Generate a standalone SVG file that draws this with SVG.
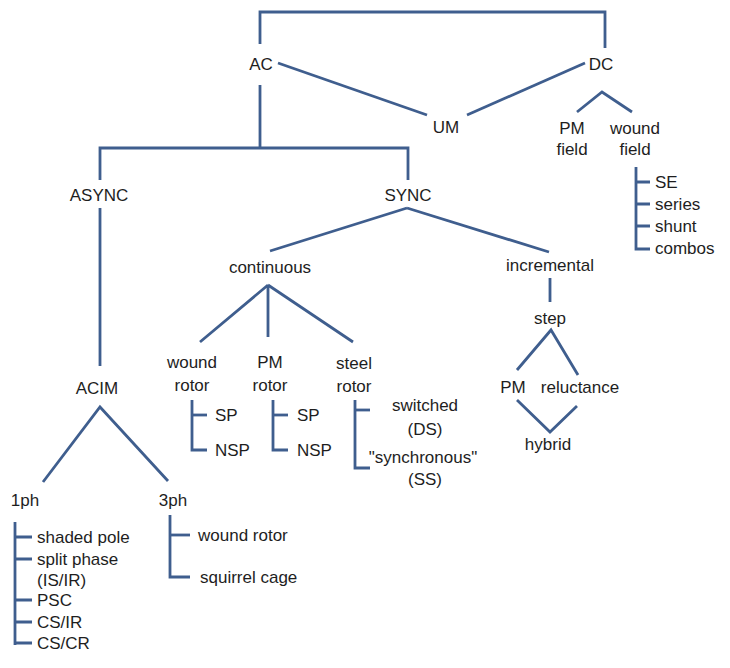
<svg xmlns="http://www.w3.org/2000/svg" width="730" height="668" viewBox="0 0 730 668">
<style>
text{font-family:"Liberation Sans",Arial,sans-serif;font-size:17px;fill:#1e1e1e;dominant-baseline:central}
.c{text-anchor:middle}
.l{text-anchor:start}
#connectors path,#connectors polyline{fill:none;stroke:#3f5e8e;stroke-width:2.8;stroke-linejoin:miter;stroke-linecap:butt}
</style>
<rect width="730" height="668" fill="#fff"/>
<g id="connectors">
<polyline points="260,44 260,12 605,12 605,48"/>
<path d="M278,63 L427,115"/>
<path d="M585,63 L467,115"/>
<path d="M260,85 L260,148"/>
<polyline points="100,180 100,148 408,148 408,180"/>
<path d="M100,208 L100,366"/>
<polyline points="43,482 100,407 168,481"/>
<polyline points="15,522 15,645"/>
<path d="M15,537 H32 M15,559 H32 M15,600 H32 M15,622 H32 M15,643 H32"/>
<polyline points="170,515 170,577 190,577"/>
<path d="M170,535 H190"/>
<path d="M407,208 L270,251"/>
<path d="M407,208 L549,252"/>
<path d="M268,285 L200,342 M268,285 L268,337 M268,285 L353,342"/>
<polyline points="192,400 192,450 207,450"/>
<path d="M192,415 H207"/>
<polyline points="273,400 273,450 288,450"/>
<path d="M273,415 H288"/>
<polyline points="355,400 355,468 370,468"/>
<path d="M355,410 H370"/>
<path d="M550,278 L550,302"/>
<polyline points="517,370 551,330 578,375"/>
<polyline points="517,400 550,432 577,406"/>
<polyline points="577,112 602,92 632,112"/>
<polyline points="636,167 636,249 650,249"/>
<path d="M636,182 H650 M636,204 H650 M636,226 H650"/>
</g>
<g id="n-ac"><text class="c" x="261" y="64">AC</text></g>
<g id="n-dc"><text class="c" x="601" y="64">DC</text></g>
<g id="n-um"><text class="c" x="446" y="127">UM</text></g>
<g id="n-pmfield"><text class="c" x="572" y="128">PM</text><text class="c" x="572" y="149">field</text></g>
<g id="n-woundfield"><text class="c" x="635" y="128">wound</text><text class="c" x="635" y="149">field</text></g>
<g id="n-dctypes"><text class="l" x="655" y="182">SE</text><text class="l" x="655" y="204">series</text><text class="l" x="655" y="226">shunt</text><text class="l" x="655" y="248">combos</text></g>
<g id="n-async"><text class="c" x="99" y="195">ASYNC</text></g>
<g id="n-sync"><text class="c" x="408" y="195">SYNC</text></g>
<g id="n-continuous"><text class="c" x="270" y="267">continuous</text></g>
<g id="n-incremental"><text class="c" x="550" y="265">incremental</text></g>
<g id="n-step"><text class="c" x="550" y="318">step</text></g>
<g id="n-pm"><text class="c" x="513" y="387">PM</text></g>
<g id="n-reluctance"><text class="c" x="580" y="387">reluctance</text></g>
<g id="n-hybrid"><text class="c" x="548" y="444">hybrid</text></g>
<g id="n-woundrotor"><text class="c" x="192" y="362">wound</text><text class="c" x="192" y="385">rotor</text></g>
<g id="n-woundrotor-sub"><text class="l" x="215" y="415">SP</text><text class="l" x="215" y="450">NSP</text></g>
<g id="n-pmrotor"><text class="c" x="270" y="362">PM</text><text class="c" x="270" y="385">rotor</text></g>
<g id="n-pmrotor-sub"><text class="l" x="297" y="415">SP</text><text class="l" x="297" y="450">NSP</text></g>
<g id="n-steelrotor"><text class="c" x="354" y="363">steel</text><text class="c" x="354" y="386">rotor</text></g>
<g id="n-steelrotor-sub"><text class="c" x="425" y="405">switched</text><text class="c" x="425" y="429">(DS)</text><text class="c" x="423" y="457">"synchronous"</text><text class="c" x="425" y="479">(SS)</text></g>
<g id="n-acim"><text class="c" x="97" y="388">ACIM</text></g>
<g id="n-1ph"><text class="c" x="25" y="500">1ph</text></g>
<g id="n-3ph"><text class="c" x="173" y="500">3ph</text></g>
<g id="n-1ph-sub"><text class="l" x="37" y="537">shaded pole</text><text class="l" x="37" y="559">split phase</text><text class="l" x="37" y="580">(IS/IR)</text><text class="l" x="37" y="600">PSC</text><text class="l" x="37" y="622">CS/IR</text><text class="l" x="37" y="643">CS/CR</text></g>
<g id="n-3ph-sub"><text class="l" x="198" y="535">wound rotor</text><text class="l" x="200" y="577">squirrel cage</text></g>
</svg>
